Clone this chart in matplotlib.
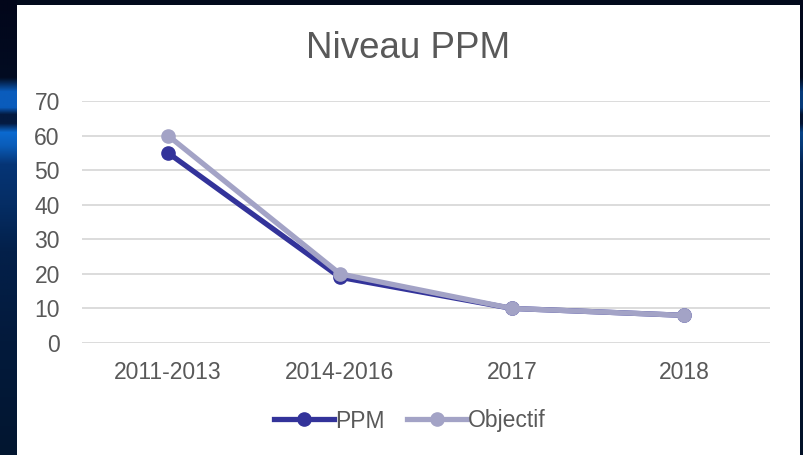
import matplotlib
matplotlib.use("Agg")
import matplotlib.pyplot as plt
import numpy as np
from matplotlib.patches import Rectangle
from matplotlib.lines import Line2D
from matplotlib.colors import LinearSegmentedColormap

categories = ["2011-2013", "2014-2016", "2017", "2018"]
ppm = [55, 19, 10, 8]
objectif = [60, 20, 10, 8]
yticks = [0, 10, 20, 30, 40, 50, 60, 70]

plt.rcParams['font.family'] = ['Liberation Sans', 'DejaVu Sans']

W, H = 804, 455
fig = plt.figure(figsize=(W/100, H/100), dpi=100, facecolor="#020a1c")

# decorative background strip (left), gradient of dark/bright blue
bg = LinearSegmentedColormap.from_list("bg", [
    (0.00, "#02061a"), (0.17, "#020c22"), (0.20, "#0a5cbc"), (0.235, "#0a5cbc"),
    (0.25, "#041a40"), (0.27, "#041a40"), (0.29, "#0b6ad0"), (0.32, "#0a5cb8"),
    (0.36, "#063576"), (0.45, "#052d64"), (0.55, "#03204a"), (0.75, "#031a3c"),
    (1.00, "#021630")])
strip = fig.add_axes([0, 0, 17/W, 1])
strip.imshow(np.linspace(0, 1, 256).reshape(-1, 1), aspect="auto", cmap=bg,
             extent=[0, 1, 1, 0], interpolation="bilinear")
strip.axis("off")
rstrip = fig.add_axes([800/W, 0, 4/W, 1])
rstrip.imshow(np.linspace(0, 1, 256).reshape(-1, 1), aspect="auto", cmap=bg,
              extent=[0, 1, 1, 0], interpolation="bilinear", alpha=0.6)
rstrip.axis("off")

# white chart panel
fig.patches.append(Rectangle((17/W, 0), (800-17)/W, (455-5)/H, transform=fig.transFigure,
                             facecolor="white", edgecolor="none", zorder=1))

ax = fig.add_axes([82/W, 1 - 343/H, (770-82)/W, (343-101)/H])
ax.set_facecolor("none")
ax.set_zorder(2)

x = list(range(len(categories)))
c_ppm = "#33339a"
c_obj = "#a3a3c6"
ax.plot(x, ppm, color=c_ppm, lw=3.8, marker="o", ms=9.5, solid_capstyle="round", zorder=3)
ax.plot(x, objectif, color=c_obj, lw=3.8, marker="o", ms=9.5, solid_capstyle="round", zorder=4)

ax.set_xlim(-0.5, 3.5)
ax.set_ylim(0, 70)
ax.set_yticks(yticks)
ax.set_xticks(x)
ax.set_xticklabels(categories)
ax.grid(axis="y", color="#d9d9d9", lw=1.3)
ax.set_axisbelow(True)
for s in ax.spines.values():
    s.set_visible(False)
ax.tick_params(axis="both", length=0, labelsize=16.5, labelcolor="#595959")
ax.tick_params(axis="y", pad=16)
ax.tick_params(axis="x", pad=13)

fig.text(408/W, 1 - 48/H, "Niveau PPM", ha="center", va="center", fontsize=26.5, color="#595959", zorder=3)

handles = [Line2D([], [], color=c_ppm, lw=3.8, marker="o", ms=9.5),
           Line2D([], [], color=c_obj, lw=3.8, marker="o", ms=9.5)]
fig.legend(handles, ["PPM", "Objectif"], loc="center", bbox_to_anchor=(410/W, 1 - 421/H),
           ncol=2, frameon=False, fontsize=16.5, labelcolor="#595959",
           handlelength=2.6, handletextpad=0.05, columnspacing=1.0)

fig.savefig("out.png", dpi=100, facecolor=fig.get_facecolor())
